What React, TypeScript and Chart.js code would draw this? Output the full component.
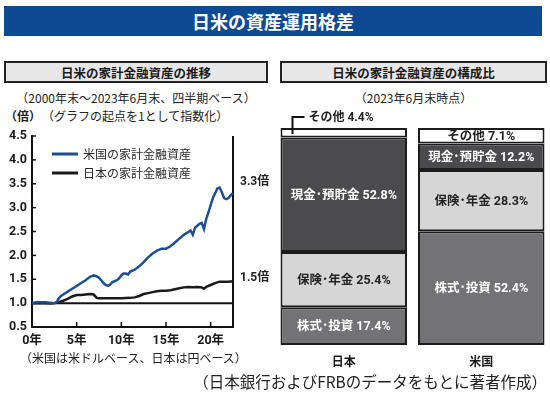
import React, { useEffect, useRef } from 'react';
import { Chart, registerables } from 'chart.js';

Chart.register(...registerables);

// ---------- Left chart data (years since end of 2000, index with start = 1) ----------
const usYears = [0, 0.5, 1, 1.5, 2, 2.5, 2.75, 3, 3.25, 3.5, 4, 4.5, 5, 5.5, 6, 6.5, 6.9, 7.25, 7.5, 7.75, 8, 8.25, 8.5, 8.75, 9, 9.5, 9.75, 10, 10.25, 10.5, 10.75, 11, 11.5, 12, 12.5, 13, 13.5, 14, 14.5, 15, 15.5, 16, 16.5, 17, 17.5, 17.75, 18, 18.25, 18.5, 18.75, 19, 19.25, 19.5, 19.75, 20, 20.25, 20.5, 20.75, 21, 21.25, 21.5, 21.75, 22, 22.25, 22.5];
const usValues = [1.0, 1.02, 1.02, 1.02, 1.01, 1.0, 1.02, 1.1, 1.15, 1.18, 1.24, 1.3, 1.36, 1.42, 1.48, 1.55, 1.58, 1.56, 1.53, 1.48, 1.42, 1.38, 1.36, 1.39, 1.44, 1.48, 1.52, 1.58, 1.62, 1.62, 1.6, 1.66, 1.7, 1.77, 1.86, 1.96, 2.04, 2.1, 2.14, 2.14, 2.19, 2.27, 2.35, 2.43, 2.49, 2.52, 2.43, 2.58, 2.62, 2.66, 2.68, 2.55, 2.76, 2.9, 3.05, 3.2, 3.3, 3.4, 3.42, 3.32, 3.2, 3.18, 3.2, 3.26, 3.3];

const jpYears = [0, 1, 2, 2.5, 3, 3.5, 4, 4.5, 5, 5.5, 6, 6.5, 6.9, 7.25, 7.5, 8, 9, 10, 11, 11.5, 12, 12.5, 13, 13.5, 14, 14.5, 15, 15.5, 16, 16.5, 17, 17.5, 18, 18.5, 19, 19.25, 19.5, 20, 20.5, 21, 21.5, 22, 22.5];
const jpValues = [1.0, 1.0, 0.99, 1.0, 1.02, 1.05, 1.09, 1.14, 1.17, 1.17, 1.18, 1.19, 1.18, 1.11, 1.1, 1.1, 1.1, 1.1, 1.11, 1.12, 1.15, 1.19, 1.21, 1.23, 1.25, 1.26, 1.26, 1.27, 1.29, 1.31, 1.33, 1.34, 1.33, 1.34, 1.33, 1.3, 1.34, 1.38, 1.42, 1.45, 1.45, 1.45, 1.46];

const xTickValues = [0, 5, 10, 15, 20];
const yTickValues = [0.5, 1.0, 1.5, 2.0, 2.5, 3.0, 3.5, 4.0, 4.5];
const seriesNames = ['米国の家計金融資産', '日本の家計金融資産'];
const seriesColors = ['#1d4f8e', '#1a1a1a'];
const endLabels = ['3.3倍', '1.5倍'];

// ---------- Right chart data (composition, %) ----------
const countries = ['日本', '米国'];
const segmentNames = ['株式･投資', '保険･年金', '現金･預貯金', 'その他'];
const jpShares = [17.4, 25.4, 52.8, 4.4];
const usShares = [52.4, 28.3, 12.2, 7.1];
const segmentColors = ['#737376', '#d6d6d6', '#4b4b4e', '#ffffff'];
const segmentTextColors = ['#ffffff', '#222222', '#ffffff', '#222222'];

const NUM_FONT = "Roboto, 'Noto Sans CJK JP', sans-serif";
const JP_FONT = "'Noto Sans CJK JP', sans-serif";

const lineDecor = {
  id: 'lineDecor',
  beforeDatasetsDraw(chart: any) {
    const { ctx, chartArea, scales } = chart;
    const { left, right, top, bottom } = chartArea;
    const x = scales.x;
    const y = scales.y;
    ctx.save();
    ctx.strokeStyle = '#111';
    ctx.lineWidth = 2;
    const y1 = y.getPixelForValue(1);
    ctx.beginPath();
    ctx.moveTo(left, y1);
    ctx.lineTo(right, y1);
    ctx.stroke();
    ctx.beginPath();
    ctx.moveTo(right, top);
    ctx.lineTo(right, bottom + 1);
    ctx.stroke();
    ctx.lineWidth = 1.5;
    xTickValues.forEach((t) => {
      if (t === 0) return;
      const px = x.getPixelForValue(t);
      ctx.beginPath();
      ctx.moveTo(px, bottom);
      ctx.lineTo(px, bottom - 5);
      ctx.stroke();
    });
    yTickValues.forEach((t) => {
      const py = y.getPixelForValue(t);
      ctx.beginPath();
      ctx.moveTo(left, py);
      ctx.lineTo(left + 4, py);
      ctx.stroke();
    });
    ctx.restore();
  },
  afterDatasetsDraw(chart: any) {
    const { ctx, chartArea, scales } = chart;
    const { left, right, top } = chartArea;
    const y = scales.y;
    ctx.save();
    // legend
    seriesNames.forEach((name, i) => {
      const ly = top + 18 + i * 19;
      ctx.strokeStyle = seriesColors[i];
      ctx.lineWidth = 3;
      ctx.beginPath();
      ctx.moveTo(left + 20, ly);
      ctx.lineTo(left + 46, ly);
      ctx.stroke();
      ctx.fillStyle = '#2a2a2a';
      ctx.font = `400 12px ${JP_FONT}`;
      ctx.textBaseline = 'middle';
      ctx.textAlign = 'left';
      ctx.fillText(name, left + 51, ly);
    });
    // end labels
    const lastVals = [usValues[usValues.length - 1], jpValues[jpValues.length - 1]];
    const offsets = [-11, -3];
    ctx.font = `700 12px ${NUM_FONT}`;
    ctx.fillStyle = '#222';
    ctx.textBaseline = 'middle';
    endLabels.forEach((lab, i) => {
      ctx.fillText(lab, right + 7, y.getPixelForValue(lastVals[i]) + offsets[i]);
    });
    ctx.restore();
  },
};

const barDecor = {
  id: 'barDecor',
  afterDatasetsDraw(chart: any) {
    const { ctx } = chart;
    ctx.save();
    ctx.textBaseline = 'middle';
    ctx.textAlign = 'center';
    chart.data.datasets.forEach((ds: any, di: number) => {
      const meta = chart.getDatasetMeta(di);
      meta.data.forEach((el: any, ci: number) => {
        const val = ds.data[ci];
        const label = `${segmentNames[di]} ${val.toFixed(1)}%`;
        const cy = (el.y + el.base) / 2;
        if (di === 3 && ci === 0) {
          // outside label with leader line
          const lx = el.x - el.width / 2 + 12;
          ctx.strokeStyle = '#111';
          ctx.lineWidth = 2;
          ctx.beginPath();
          ctx.moveTo(lx, el.y + 6);
          ctx.lineTo(lx, el.y - 11);
          ctx.lineTo(lx + 12, el.y - 11);
          ctx.stroke();
          ctx.fillStyle = '#222';
          ctx.font = `700 12px ${NUM_FONT}`;
          ctx.textAlign = 'left';
          ctx.fillText(label, lx + 16, el.y - 10);
          ctx.textAlign = 'center';
          return;
        }
        ctx.fillStyle = segmentTextColors[di];
        ctx.font = `700 12.5px ${NUM_FONT}`;
        ctx.fillText(label, el.x, cy + 1);
      });
    });
    ctx.restore();
  },
};

function LineChart() {
  const ref = useRef<HTMLCanvasElement>(null);
  useEffect(() => {
    const chart = new Chart(ref.current as HTMLCanvasElement, {
      type: 'line',
      data: {
        datasets: [
          {
            label: seriesNames[0],
            data: usYears.map((x, i) => ({ x, y: usValues[i] })),
            borderColor: seriesColors[0],
            borderWidth: 2.5,
            pointRadius: 0,
            tension: 0,
          },
          {
            label: seriesNames[1],
            data: jpYears.map((x, i) => ({ x, y: jpValues[i] })),
            borderColor: seriesColors[1],
            borderWidth: 2.5,
            pointRadius: 0,
            tension: 0,
          },
        ],
      },
      options: {
        animation: false,
        responsive: false,
        devicePixelRatio: 1,
        layout: { padding: { top: 16, right: 42, left: 0, bottom: 0 } },
        plugins: { legend: { display: false }, tooltip: { enabled: false } },
        scales: {
          x: {
            type: 'linear',
            min: 0,
            max: 22.5,
            afterFit: (s: any) => { s.height = 28; },
            afterBuildTicks: (s: any) => { s.ticks = xTickValues.map((v) => ({ value: v })); },
            grid: { display: false, drawTicks: false },
            border: { display: true, color: '#111', width: 2 },
            ticks: {
              padding: 6,
              color: '#1a1a1a',
              font: { family: NUM_FONT, size: 12.5, weight: 'bold' },
              callback: (v: any) => `${v}年`,
            },
          },
          y: {
            type: 'linear',
            min: 0.5,
            max: 4.5,
            afterFit: (s: any) => { s.width = 32; },
            afterBuildTicks: (s: any) => { s.ticks = yTickValues.map((v) => ({ value: v })); },
            grid: { display: false, drawTicks: false },
            border: { display: true, color: '#111', width: 2 },
            ticks: {
              padding: 5,
              color: '#1a1a1a',
              font: { family: NUM_FONT, size: 12.5, weight: 'bold' },
              callback: (v: any) => Number(v).toFixed(1),
            },
          },
        },
      },
      plugins: [lineDecor],
    } as any);
    return () => chart.destroy();
  }, []);
  return <canvas ref={ref} width={275} height={235} style={{ position: 'absolute', left: 0, top: 120, width: 275, height: 235 }} />;
}

function BarChart() {
  const ref = useRef<HTMLCanvasElement>(null);
  useEffect(() => {
    const chart = new Chart(ref.current as HTMLCanvasElement, {
      type: 'bar',
      data: {
        labels: countries,
        datasets: segmentNames.map((name, i) => ({
          label: name,
          data: [jpShares[i], usShares[i]],
          backgroundColor: segmentColors[i],
          borderColor: '#1c1c1c',
          borderWidth: 2,
          borderSkipped: false,
          barPercentage: 1,
          categoryPercentage: 0.92,
        })),
      },
      options: {
        animation: false,
        responsive: false,
        devicePixelRatio: 1,
        layout: { padding: { top: 28, right: 0, left: 5, bottom: 0 } },
        plugins: { legend: { display: false }, tooltip: { enabled: false } },
        scales: {
          x: {
            stacked: true,
            afterFit: (s: any) => { s.height = 30; },
            grid: { display: false, drawTicks: false },
            border: { display: false },
            ticks: {
              padding: 9,
              color: '#1a1a1a',
              font: { family: JP_FONT, size: 12, weight: 'bold' },
            },
          },
          y: {
            stacked: true,
            min: 0,
            max: 100,
            display: false,
          },
        },
      },
      plugins: [barDecor],
    } as any);
    return () => chart.destroy();
  }, []);
  return <canvas ref={ref} width={280} height={275} style={{ position: 'absolute', left: 270, top: 100, width: 280, height: 275 }} />;
}

const headerBox: React.CSSProperties = {
  position: 'absolute',
  top: 61,
  height: 22,
  boxSizing: 'border-box',
  border: '2px solid #222',
  background: '#e7e7e7',
  display: 'flex',
  alignItems: 'center',
  justifyContent: 'center',
  fontWeight: 700,
  fontSize: 12.5,
  color: '#1a1a1a',
};

const textAt = (left: number, top: number, width: number, align: any, size: number, weight = 400): React.CSSProperties => ({
  position: 'absolute',
  left,
  top,
  width,
  textAlign: align,
  fontSize: size,
  fontWeight: weight,
  lineHeight: `${size + 4}px`,
  whiteSpace: 'nowrap',
  color: '#222',
});

export default function App() {
  return (
    <div style={{ position: 'absolute', left: 0, top: 0, width: 550, height: 395, background: '#fff', fontFamily: JP_FONT, overflow: 'hidden' }}>
      <div style={{ position: 'absolute', left: 4, top: 6, width: 538, height: 30, background: '#0e4a94', color: '#fff', fontWeight: 700, fontSize: 18, display: 'flex', alignItems: 'center', justifyContent: 'center' }}>日米の資産運用格差</div>
      <div style={{ ...headerBox, left: 4, width: 264 }}>日米の家計金融資産の推移</div>
      <div style={{ ...headerBox, left: 280, width: 267 }}>日米の家計金融資産の構成比</div>
      <div style={textAt(4, 90, 264, 'center', 12)}>（2000年末～2023年6月末、四半期ベース）</div>
      <div style={textAt(5, 108, 40, 'left', 12, 700)}>（倍）</div>
      <div style={textAt(42, 108, 200, 'left', 12)}>（グラフの起点を1として指数化）</div>
      <div style={textAt(280, 90, 267, 'center', 12)}>（2023年6月末時点）</div>
      <LineChart />
      <BarChart />
      <div style={textAt(20, 350, 230, 'left', 12)}>（米国は米ドルベース、日本は円ベース）</div>
      <div style={textAt(100, 372, 447, 'right', 15.5)}>（日本銀行およびFRBのデータをもとに著者作成）</div>
    </div>
  );
}
